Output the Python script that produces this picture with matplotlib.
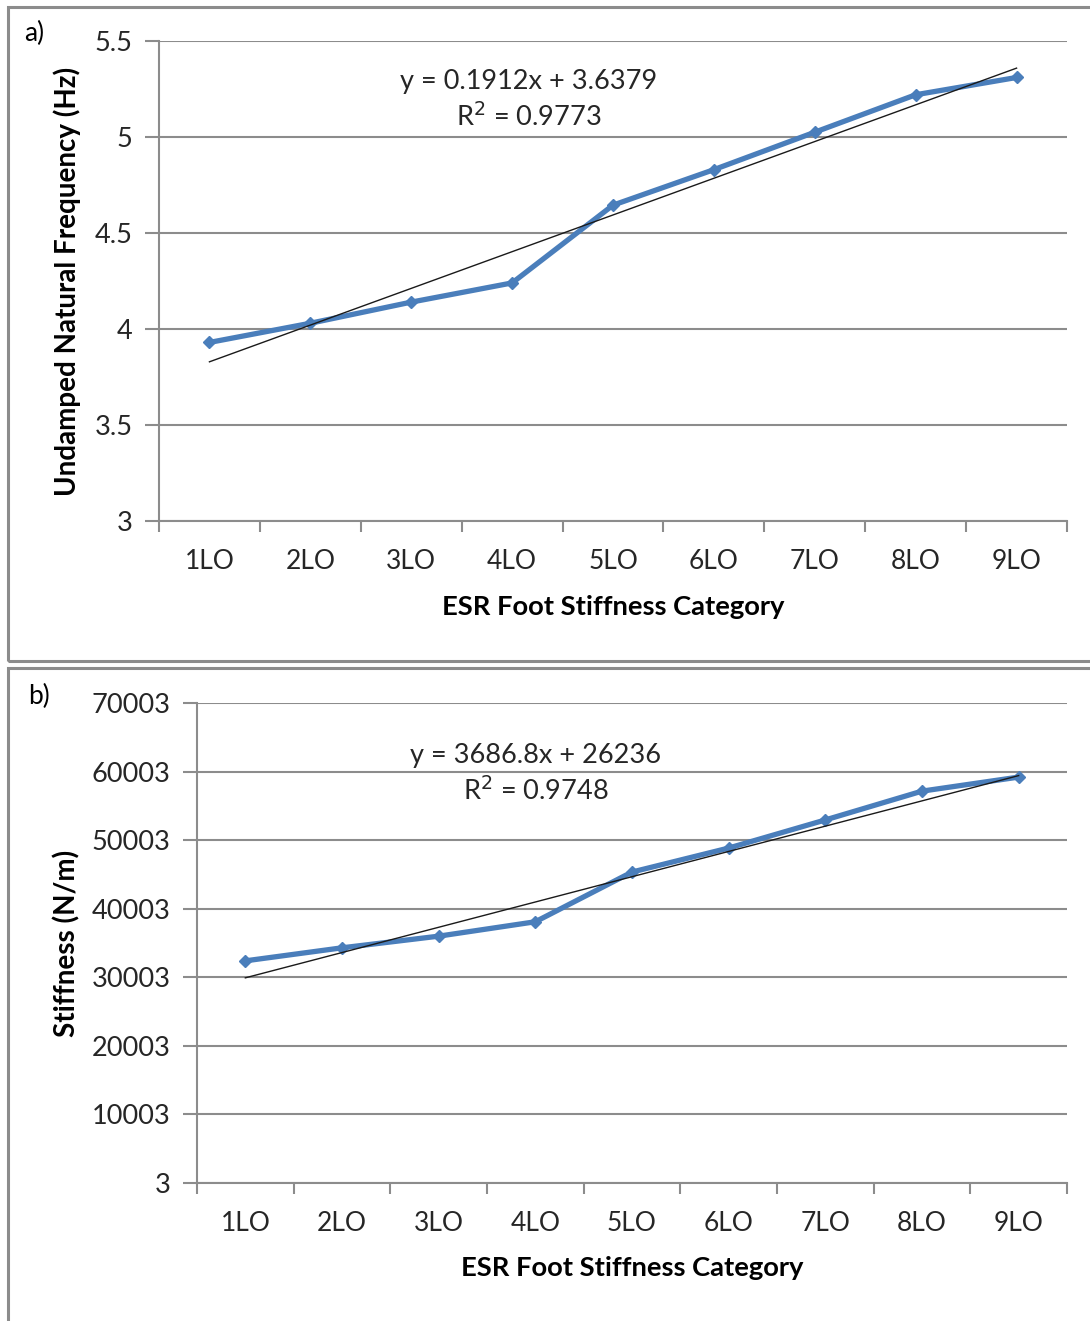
import matplotlib
matplotlib.use("Agg")
import matplotlib.pyplot as plt
from matplotlib.patches import Rectangle
import numpy as np

plt.rcParams['font.family'] = ['Lato', 'DejaVu Sans']

categories = ['1LO', '2LO', '3LO', '4LO', '5LO', '6LO', '7LO', '8LO', '9LO']
freq_hz = [3.93, 4.03, 4.14, 4.24, 4.645, 4.83, 5.025, 5.22, 5.31]
stiffness = [32400, 34300, 36000, 38100, 45350, 48850, 52950, 57150, 59200]
freq_fit = (0.1912, 3.6379)
freq_r2 = 0.9773
stiff_fit = (3686.8, 26236)
stiff_r2 = 0.9748
freq_ticks = [3, 3.5, 4, 4.5, 5, 5.5]
stiff_ticks = [3, 10003, 20003, 30003, 40003, 50003, 60003, 70003]

W, H = 1090, 1321
fig = plt.figure(figsize=(W / 100, H / 100), dpi=100)

def fx(px):
    return px / W

def fy(py):
    return 1 - py / H

# panel borders
for (x0, y0, x1, y1) in [(8, 7, 1100, 661), (8, 668, 1100, 1340)]:
    fig.patches.append(Rectangle((fx(x0), fy(y1)), fx(x1 - x0), fy(y0) - fy(y1),
                                 transform=fig.transFigure, fill=False,
                                 edgecolor='#8c8c8c', linewidth=2.2, zorder=0))

BLUE = '#4a7ebb'
GRID = '#8c8c8c'
TXT = '#262626'

def make_panel(box, values, ticks, fit, r2, ylabel, panel_label, eq_xy, label_xy, xlabel_y, ylabel_x):
    left, top, right, bottom = box
    ax = fig.add_axes([fx(left), fy(bottom), fx(right - left), fy(top) - fy(bottom)])
    x = np.arange(1, len(categories) + 1)
    ax.set_xlim(0.5, len(categories) + 0.5)
    ax.set_ylim(ticks[0], ticks[-1])
    ax.set_yticks(ticks)
    ax.set_yticklabels([('%g' % t) for t in ticks], fontsize=19.5, color=TXT)
    ax.set_xticks(x)
    ax.set_xticklabels(categories, fontsize=19, color=TXT)
    ax.set_xticks(np.arange(0.5, len(categories) + 1), minor=True)
    ax.tick_params(axis='x', which='major', length=0, pad=20)
    ax.tick_params(axis='x', which='minor', length=8, width=1.5, color=GRID, direction='out')
    ax.tick_params(axis='y', length=10, width=1.5, color=GRID, pad=9)
    ax.grid(axis='y', color=GRID, linewidth=1.5)
    ax.set_axisbelow(True)
    for s in ['top', 'right']:
        ax.spines[s].set_visible(False)
    for s in ['left', 'bottom']:
        ax.spines[s].set_color(GRID)
        ax.spines[s].set_linewidth(1.5)
    ax.plot(x, values, color=BLUE, linewidth=3.8, marker='D', markersize=6.5,
            markerfacecolor=BLUE, markeredgecolor=BLUE, zorder=3)
    tx = np.array([1, len(categories)])
    ax.plot(tx, fit[0] * tx + fit[1], color='#1a1a1a', linewidth=1.0, zorder=4)
    # trendline equation
    fig.text(fx(eq_xy[0]), fy(eq_xy[1]), 'y = %gx + %g' % fit, ha='center', va='center',
             fontsize=19.5, color=TXT)
    fig.text(fx(eq_xy[0]), fy(eq_xy[1] + 36), 'R$^{2}$ = %g' % r2, ha='center', va='center',
             fontsize=19.5, color=TXT)
    fig.text(fx(label_xy[0]), fy(label_xy[1]), panel_label, ha='center', va='center', fontsize=19, color='black')
    fig.text(fx((left + right) / 2), fy(xlabel_y), 'ESR Foot Stiffness Category', ha='center', va='center',
             fontsize=19.7, fontweight='bold', color='black')
    fig.text(fx(ylabel_x), fy((top + bottom) / 2), ylabel, ha='center', va='center', rotation=90,
             fontsize=20, fontweight='bold', color='black')
    return ax

make_panel((159, 41, 1067, 521), freq_hz, freq_ticks, freq_fit, freq_r2,
           'Undamped Natural Frequency (Hz)', 'a)',
           (529, 81), (34, 33), 607, 67)
make_panel((197, 703, 1067, 1183), stiffness, stiff_ticks, stiff_fit, stiff_r2,
           'Stiffness (N/m)', 'b)',
           (536, 755), (39, 696), 1268, 67)

fig.savefig('out.png', dpi=100)
